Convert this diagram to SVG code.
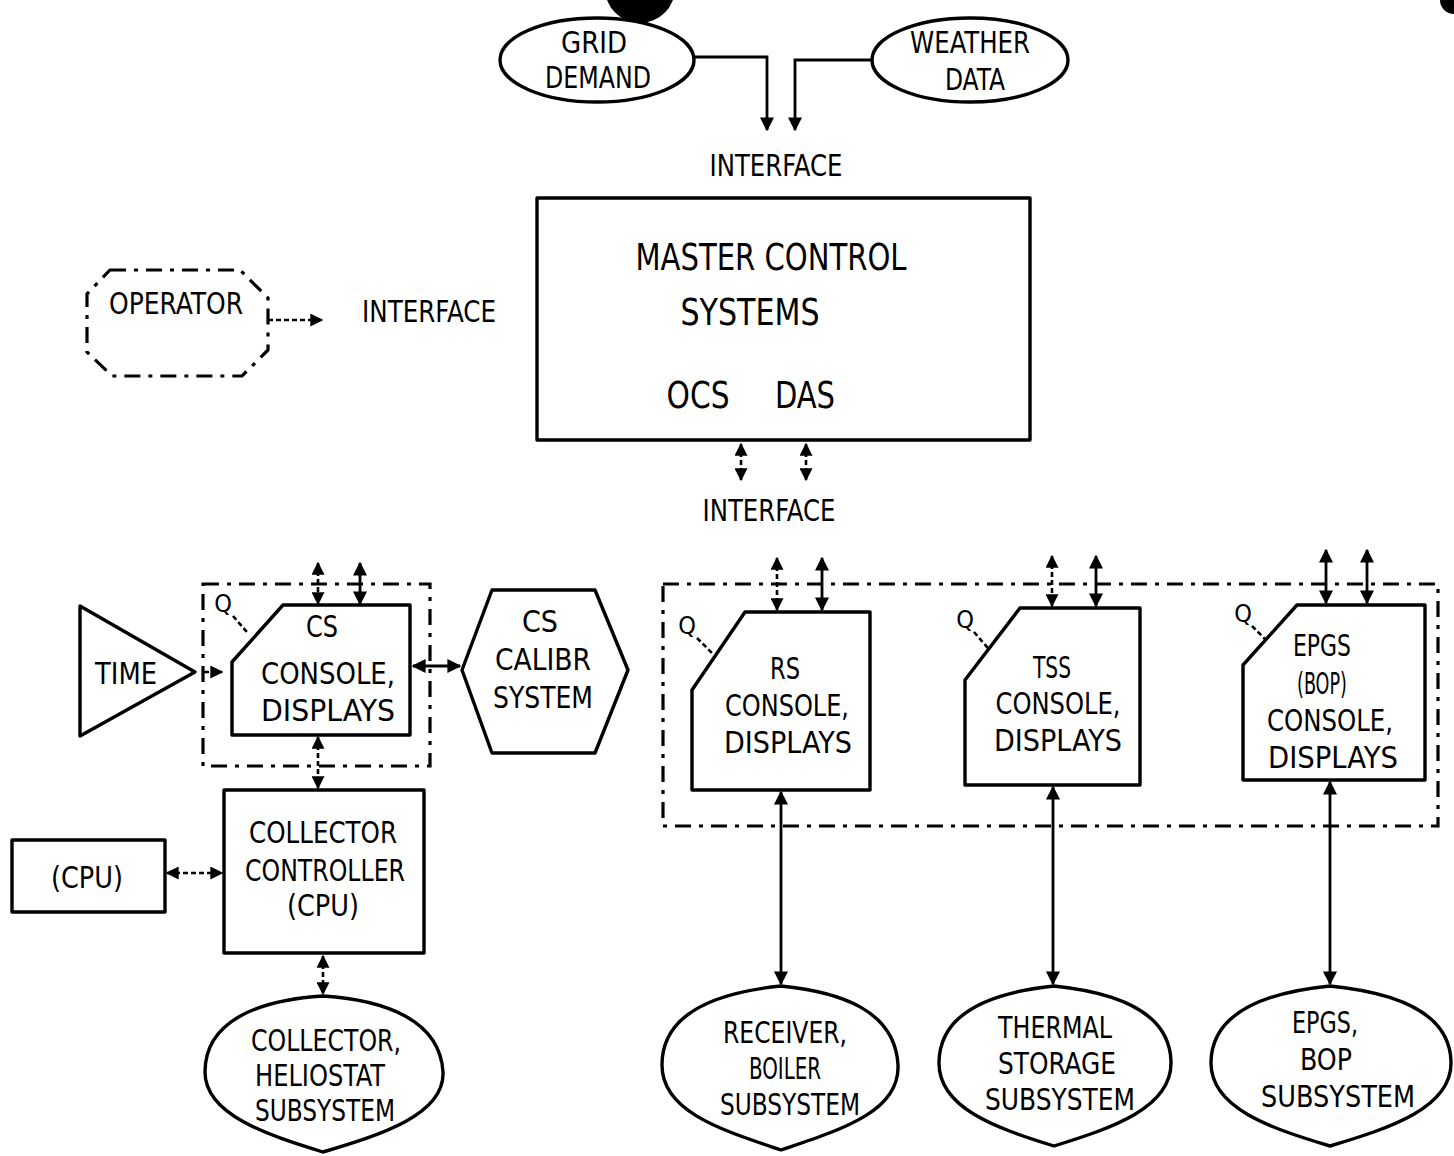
<svg xmlns="http://www.w3.org/2000/svg" width="1454" height="1156" viewBox="0 0 1454 1156">
<defs>
<style>
.s{fill:none;stroke:#000;stroke-width:3.4;stroke-linejoin:round}
.d{fill:none;stroke:#000;stroke-width:3.2;stroke-dasharray:16 8 4 8}
.dl{fill:none;stroke:#000;stroke-width:2.6;stroke-dasharray:5 3}
.c{fill:none;stroke:#000;stroke-width:2.8}
text{font-family:"Liberation Sans Narrow","DejaVu Sans Condensed","Liberation Sans",sans-serif;font-size:31px;fill:#000;text-anchor:middle}
.big{font-size:37px}
.q{font-size:25px}
</style>
<marker id="a" viewBox="0 0 10 10" refX="9" refY="5" markerWidth="5" markerHeight="5" orient="auto-start-reverse" markerUnits="strokeWidth"><path d="M0,0 L10,5 L0,10 z" fill="#000"/></marker>
</defs>
<rect width="1454" height="1156" fill="#fff"/>
<circle cx="640" cy="-12" r="35" fill="#000"/>
<circle cx="1454" cy="0" r="14" fill="#000"/>

<g id="grid-demand"><ellipse class="s" cx="597" cy="60" rx="97" ry="42"/><text x="594" y="53" textLength="66" lengthAdjust="spacingAndGlyphs">GRID</text><text x="598" y="88" textLength="106" lengthAdjust="spacingAndGlyphs">DEMAND</text></g>
<g id="weather-data"><ellipse class="s" cx="970" cy="60" rx="98" ry="42"/><text x="970" y="53" textLength="120" lengthAdjust="spacingAndGlyphs">WEATHER</text><text x="975" y="90" textLength="60" lengthAdjust="spacingAndGlyphs">DATA</text></g>
<g id="interface-top"><text x="776" y="176" textLength="133" lengthAdjust="spacingAndGlyphs">INTERFACE</text></g>
<g id="master-control"><rect class="s" x="537" y="198" width="493" height="242"/><text class="big" x="771" y="270" textLength="271" lengthAdjust="spacingAndGlyphs">MASTER CONTROL</text><text class="big" x="750" y="325" textLength="139" lengthAdjust="spacingAndGlyphs">SYSTEMS</text><text class="big" x="698" y="408" textLength="63" lengthAdjust="spacingAndGlyphs">OCS</text><text class="big" x="805" y="408" textLength="60" lengthAdjust="spacingAndGlyphs">DAS</text></g>
<g id="operator"><path class="d" d="M110,270 L240,270 L268,298 L268,350 L242,376 L112,376 L87,352 L87,294 Z"/><text x="176" y="314" textLength="134" lengthAdjust="spacingAndGlyphs">OPERATOR</text></g>
<g id="interface-left"><text x="429" y="322" textLength="134" lengthAdjust="spacingAndGlyphs">INTERFACE</text></g>
<g id="interface-bottom"><text x="769" y="521" textLength="133" lengthAdjust="spacingAndGlyphs">INTERFACE</text></g>

<g id="cs-group"><rect class="d" x="203" y="584" width="227" height="182"/></g>
<g id="cs-console"><path class="s" d="M283,605 L410,605 L410,735 L232,735 L232,662 Z"/><text x="322" y="637" textLength="32" lengthAdjust="spacingAndGlyphs">CS</text><text x="328" y="684" textLength="134" lengthAdjust="spacingAndGlyphs">CONSOLE,</text><text x="328" y="721" textLength="134" lengthAdjust="spacingAndGlyphs">DISPLAYS</text><text class="q" x="223" y="612">Q</text><path class="dl" d="M233,616 L247,632"/></g>
<g id="time"><path class="s" d="M80,606 L195,672 L80,736 Z"/><text x="126" y="684" textLength="62" lengthAdjust="spacingAndGlyphs">TIME</text></g>
<g id="cs-calibr"><path class="s" d="M462,670 L492,590 L595,590 L628,670 L595,753 L492,753 Z"/><text x="540" y="632" textLength="36" lengthAdjust="spacingAndGlyphs">CS</text><text x="543" y="670" textLength="96" lengthAdjust="spacingAndGlyphs">CALIBR</text><text x="543" y="708" textLength="100" lengthAdjust="spacingAndGlyphs">SYSTEM</text></g>
<g id="collector-controller"><rect class="s" x="224" y="790" width="200" height="163"/><text x="323" y="843" textLength="148" lengthAdjust="spacingAndGlyphs">COLLECTOR</text><text x="325" y="881" textLength="160" lengthAdjust="spacingAndGlyphs">CONTROLLER</text><text x="323" y="916" textLength="72" lengthAdjust="spacingAndGlyphs">(CPU)</text></g>
<g id="cpu"><rect class="s" x="12" y="840" width="153" height="72"/><text x="87" y="888" textLength="72" lengthAdjust="spacingAndGlyphs">(CPU)</text></g>
<g id="collector-heliostat"><path class="s" d="M323,996 C385,1000 440,1020 443,1072 C445,1115 380,1135 323,1152 C268,1135 205,1115 205,1072 C205,1020 260,1000 323,996 Z"/><text x="326" y="1051" textLength="150" lengthAdjust="spacingAndGlyphs">COLLECTOR,</text><text x="320" y="1086" textLength="130" lengthAdjust="spacingAndGlyphs">HELIOSTAT</text><text x="325" y="1121" textLength="140" lengthAdjust="spacingAndGlyphs">SUBSYSTEM</text></g>

<g id="subsystem-group"><rect class="d" x="663" y="584" width="775" height="242"/></g>
<g id="rs-console"><path class="s" d="M745,612 L870,612 L870,790 L692,790 L692,690 Z"/><text x="785" y="679" textLength="30" lengthAdjust="spacingAndGlyphs">RS</text><text x="787" y="716" textLength="124" lengthAdjust="spacingAndGlyphs">CONSOLE,</text><text x="788" y="753" textLength="128" lengthAdjust="spacingAndGlyphs">DISPLAYS</text><text class="q" x="687" y="634">Q</text><path class="dl" d="M697,638 L713,654"/></g>
<g id="tss-console"><path class="s" d="M1020,608 L1140,608 L1140,785 L965,785 L965,680 Z"/><text x="1052" y="678" textLength="38" lengthAdjust="spacingAndGlyphs">TSS</text><text x="1058" y="714" textLength="125" lengthAdjust="spacingAndGlyphs">CONSOLE,</text><text x="1058" y="751" textLength="128" lengthAdjust="spacingAndGlyphs">DISPLAYS</text><text class="q" x="965" y="628">Q</text><path class="dl" d="M974,632 L988,648"/></g>
<g id="epgs-console"><path class="s" d="M1297,605 L1425,605 L1425,780 L1243,780 L1243,665 Z"/><text x="1322" y="656" textLength="58" lengthAdjust="spacingAndGlyphs">EPGS</text><text x="1322" y="694" textLength="50" lengthAdjust="spacingAndGlyphs">(BOP)</text><text x="1330" y="731" textLength="126" lengthAdjust="spacingAndGlyphs">CONSOLE,</text><text x="1333" y="768" textLength="130" lengthAdjust="spacingAndGlyphs">DISPLAYS</text><text class="q" x="1243" y="622">Q</text><path class="dl" d="M1252,626 L1266,640"/></g>
<g id="receiver-boiler"><path class="s" d="M781,986 C840,992 895,1010 898,1065 C900,1112 840,1130 781,1150 C722,1130 662,1112 662,1065 C662,1010 722,992 781,986 Z"/><text x="785" y="1043" textLength="124" lengthAdjust="spacingAndGlyphs">RECEIVER,</text><text x="785" y="1079" textLength="72" lengthAdjust="spacingAndGlyphs">BOILER</text><text x="790" y="1115" textLength="140" lengthAdjust="spacingAndGlyphs">SUBSYSTEM</text></g>
<g id="thermal-storage"><path class="s" d="M1054,986 C1112,992 1170,1010 1171,1062 C1172,1108 1112,1128 1054,1146 C996,1128 938,1108 939,1062 C940,1010 996,992 1054,986 Z"/><text x="1055" y="1038" textLength="114" lengthAdjust="spacingAndGlyphs">THERMAL</text><text x="1057" y="1074" textLength="118" lengthAdjust="spacingAndGlyphs">STORAGE</text><text x="1060" y="1110" textLength="150" lengthAdjust="spacingAndGlyphs">SUBSYSTEM</text></g>
<g id="epgs-bop"><path class="s" d="M1330,986 C1390,992 1450,1010 1451,1062 C1452,1108 1390,1128 1330,1146 C1270,1128 1210,1108 1211,1062 C1212,1010 1270,992 1330,986 Z"/><text x="1325" y="1033" textLength="66" lengthAdjust="spacingAndGlyphs">EPGS,</text><text x="1326" y="1070" textLength="52" lengthAdjust="spacingAndGlyphs">BOP</text><text x="1338" y="1107" textLength="154" lengthAdjust="spacingAndGlyphs">SUBSYSTEM</text></g>

<g id="connectors">
<path class="c" d="M695,57 L767,57 L767,130" marker-end="url(#a)"/>
<path class="c" d="M873,60 L795,60 L795,130" marker-end="url(#a)"/>
<path class="dl" d="M268,320 L322,320" marker-end="url(#a)"/>
<path class="dl" d="M741,444 L741,480" marker-start="url(#a)" marker-end="url(#a)"/>
<path class="dl" d="M806,444 L806,480" marker-start="url(#a)" marker-end="url(#a)"/>
<path class="dl" d="M318,563 L318,604" marker-start="url(#a)" marker-end="url(#a)"/>
<path class="c" d="M360,563 L360,604" marker-start="url(#a)" marker-end="url(#a)"/>
<path class="dl" d="M204,672 L222,672" marker-end="url(#a)"/>
<path class="c" d="M460,666 L413,666" marker-start="url(#a)" marker-end="url(#a)"/>
<path class="dl" d="M318,737 L318,788" marker-start="url(#a)" marker-end="url(#a)"/>
<path class="dl" d="M167,873 L222,873" marker-start="url(#a)" marker-end="url(#a)"/>
<path class="dl" d="M323,956 L323,994" marker-start="url(#a)" marker-end="url(#a)"/>
<path class="dl" d="M777,558 L777,610" marker-start="url(#a)" marker-end="url(#a)"/>
<path class="c" d="M822,558 L822,610" marker-start="url(#a)" marker-end="url(#a)"/>
<path class="dl" d="M1052,556 L1052,606" marker-start="url(#a)" marker-end="url(#a)"/>
<path class="c" d="M1096,556 L1096,606" marker-start="url(#a)" marker-end="url(#a)"/>
<path class="c" d="M1326,550 L1326,603" marker-start="url(#a)" marker-end="url(#a)"/>
<path class="c" d="M1367,550 L1367,603" marker-start="url(#a)" marker-end="url(#a)"/>
<path class="c" d="M781,792 L781,984" marker-start="url(#a)" marker-end="url(#a)"/>
<path class="c" d="M1053,787 L1053,984" marker-start="url(#a)" marker-end="url(#a)"/>
<path class="c" d="M1330,782 L1330,984" marker-start="url(#a)" marker-end="url(#a)"/>
</g>
</svg>
